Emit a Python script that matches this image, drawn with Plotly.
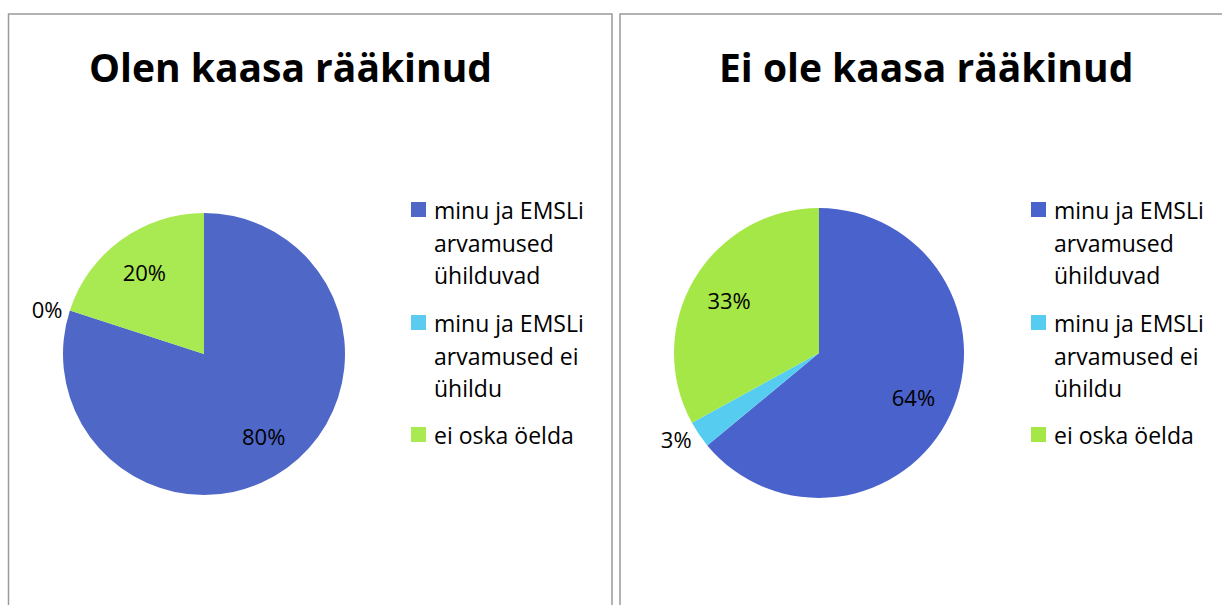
import plotly.graph_objects as go

# ---------------- data ----------------
categories = [
    "minu ja EMSLi arvamused ühilduvad",
    "minu ja EMSLi arvamused ei ühildu",
    "ei oska öelda",
]
legend_lines = [
    ["minu ja EMSLi", "arvamused", "ühilduvad"],
    ["minu ja EMSLi", "arvamused ei", "ühildu"],
    ["ei oska öelda"],
]
titles = ["Olen kaasa rääkinud", "Ei ole kaasa rääkinud"]
values_left = [80, 0, 20]
values_right = [64, 3, 33]
colors_left = ["#4F67C7", "#5BCBF0", "#A9E951"]
colors_right = ["#4A62CB", "#56CCF1", "#A6E748"]
# which labels sit outside the pie (small slices) and which inside
outside_left = [False, True, False]
outside_right = [False, True, False]

# ---------------- layout helpers ----------------
W, H = 1222, 605
FONT = "Open Sans"


def px(x):
    return x / W


def py(y):
    return 1 - y / H


fig = go.Figure()


def add_pie(values, colors, outside, dom_x, dom_y):
    dom = dict(x=[px(dom_x[0]), px(dom_x[1])], y=[py(dom_y[1]), py(dom_y[0])])
    # the pie itself, with the labels of small slices outside
    fig.add_trace(
        go.Pie(
            labels=categories, values=values, sort=False,
            direction="clockwise", rotation=0,
            marker=dict(colors=colors, line=dict(width=0)),
            texttemplate="%{percent:.0%}",
            textposition=["outside" if o else "none" for o in outside],
            outsidetextfont=dict(family=FONT, size=22, color="black"),
            domain=dom, showlegend=False, hoverinfo="label+percent",
        )
    )
    # transparent ring on top, so inside labels sit further out (as in Excel)
    fig.add_trace(
        go.Pie(
            labels=categories, values=values, sort=False,
            direction="clockwise", rotation=0, hole=0.44,
            marker=dict(colors=["rgba(0,0,0,0)"] * len(values), line=dict(width=0)),
            texttemplate="%{percent:.0%}",
            textposition=["none" if o else "inside" for o in outside],
            insidetextorientation="horizontal",
            insidetextfont=dict(family=FONT, size=22, color="black"),
            domain=dom, showlegend=False, hoverinfo="skip",
        )
    )


add_pie(values_left, colors_left, outside_left, (63, 345), (213, 495))
add_pie(values_right, colors_right, outside_right, (674, 964), (208, 498))

shapes = []
annotations = []

# panel borders
for x0, x1 in [(8.5, 612), (620, 1240)]:
    shapes.append(dict(type="rect", xref="paper", yref="paper",
                       x0=px(x0), x1=px(x1), y0=py(14), y1=py(660),
                       line=dict(color="#9a9a9a", width=1.5), fillcolor="rgba(0,0,0,0)",
                       layer="below"))

# titles
for t, cx in zip(titles, [290, 926]):
    annotations.append(dict(text=t, x=px(cx), y=py(66), xref="paper", yref="paper",
                            xanchor="center", yanchor="middle", showarrow=False,
                            font=dict(family=FONT, size=39, color="black", weight="bold")))

# legends
item_tops = [202, 315, 427]
line_gap = 32.5
for sq_x, colors in [(411, colors_left), (1031, colors_right)]:
    for lines, top, col in zip(legend_lines, item_tops, colors):
        shapes.append(dict(type="rect", xref="paper", yref="paper",
                           x0=px(sq_x), x1=px(sq_x + 15), y0=py(top + 15), y1=py(top),
                           fillcolor=col, line=dict(width=0)))
        for k, ln in enumerate(lines):
            annotations.append(dict(text=ln, x=px(sq_x + 21), y=py(top + 8 + k * line_gap),
                                    xref="paper", yref="paper", xanchor="left", yanchor="middle",
                                    showarrow=False,
                                    font=dict(family=FONT, size=23, color="black")))

fig.update_layout(
    width=W, height=H,
    margin=dict(l=0, r=0, t=0, b=0),
    paper_bgcolor="white", plot_bgcolor="white",
    shapes=shapes, annotations=annotations,
)

fig.write_html("out.html", config={"displayModeBar": False},
               post_script="document.body.style.margin='0px';")
